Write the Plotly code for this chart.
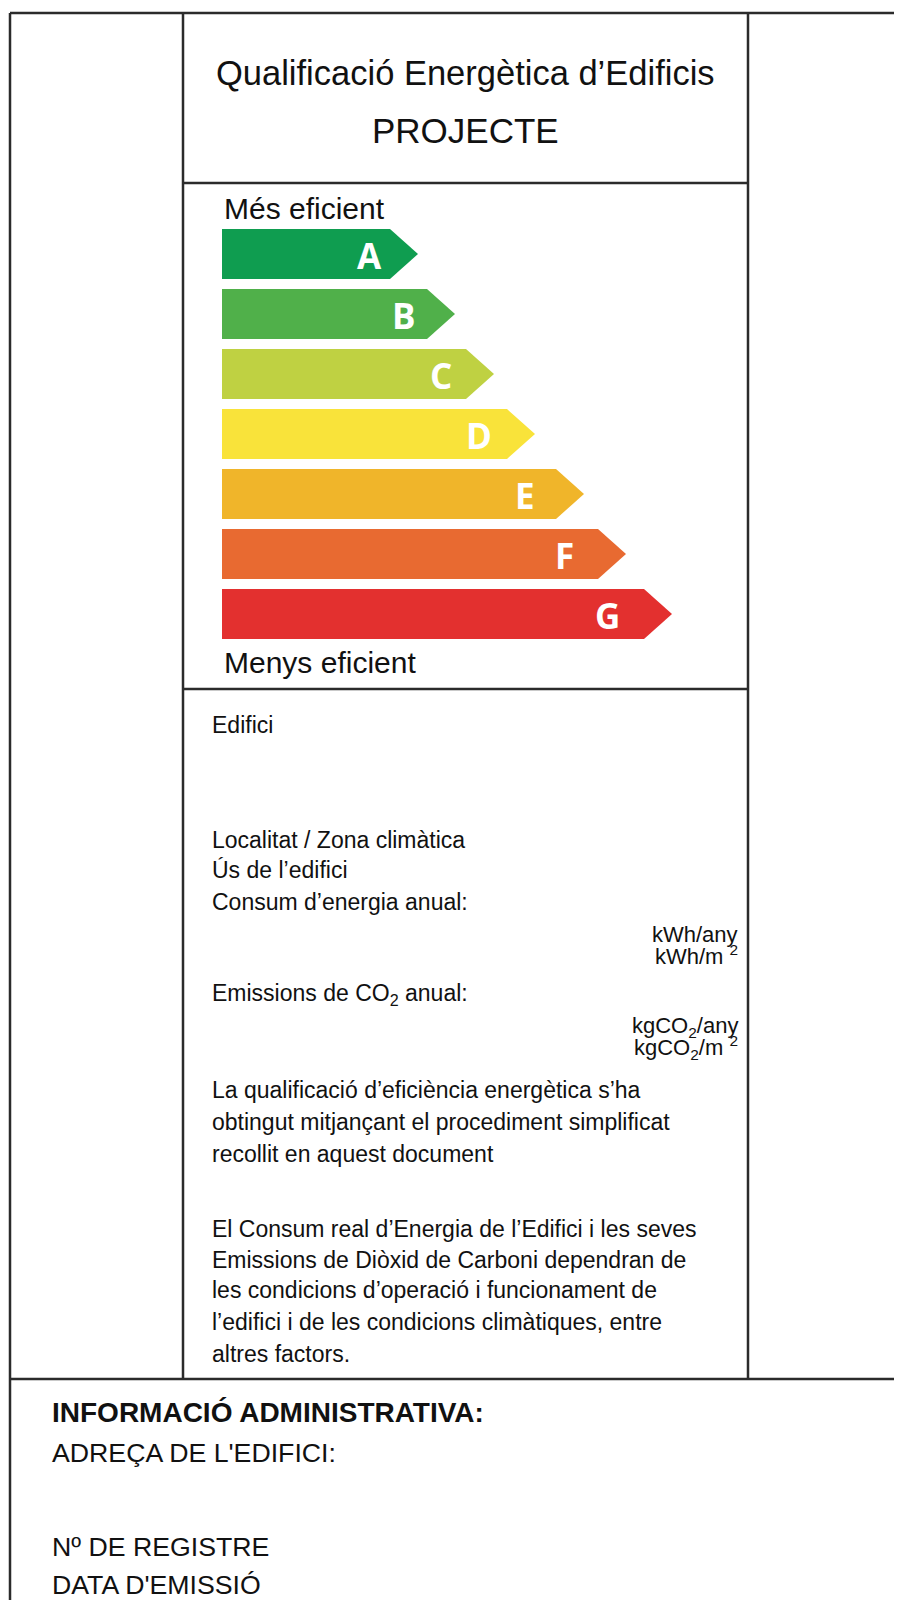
import plotly.graph_objects as go

# ---------------- data ----------------
classes = ["A", "B", "C", "D", "E", "F", "G"]
bar_lengths = [196, 233, 272, 313, 362, 404, 450]  # length of each arrow (to its tip)
bar_colors = ["#0f9d50", "#50b04a", "#bfd142", "#f9e33a", "#f0b52a", "#e86a31", "#e3302f"]

title_lines = ["Qualificació Energètica d’Edificis", "PROJECTE"]
top_label = "Més eficient"
bottom_label = "Menys eficient"

info_left = [
    "Edifici",
    "Localitat / Zona climàtica",
    "Ús de l’edifici",
    "Consum d’energia anual:",
    "Emissions de CO<sub>2</sub> anual:",
    "La qualificació d’eficiència energètica s’ha",
    "obtingut mitjançant el procediment simplificat",
    "recollit en aquest document",
    "El Consum real d’Energia de l’Edifici i les seves",
    "Emissions de Diòxid de Carboni dependran de",
    "les condicions d’operació i funcionament de",
    "l’edifici i de les condicions climàtiques, entre",
    "altres factors.",
]
info_left_baselines = [733, 848, 878, 910, 1003, 1098, 1130, 1162, 1237, 1268, 1298, 1330, 1362]

info_units = ["kWh/any", "kWh/m <sup>2</sup>", "kgCO<sub>2</sub>/any", "kgCO<sub>2</sub>/m <sup>2</sup>"]
info_units_baselines = [942, 963, 1035, 1055]

admin_title = "INFORMACIÓ ADMINISTRATIVA:"
admin_lines = ["ADREÇA DE L'EDIFICI:", "Nº DE REGISTRE", "DATA D'EMISSIÓ"]
admin_baselines = [1463, 1557, 1595]

# ---------------- layout constants ----------------
W, H = 902, 1600
PAGE_OFFSET = 8  # default body margin of the html page
FONT = "Liberation Sans, Arial, Helvetica, sans-serif"
LINE = "#2b2b2b"

bar_left = 222
bar_first_top = 229
bar_pitch = 60
bar_height = 50
tip_depth = 28

fig = go.Figure()

# arrows
for i, (cls, L, col) in enumerate(zip(classes, bar_lengths, bar_colors)):
    top = bar_first_top + i * bar_pitch
    bot = top + bar_height
    mid = (top + bot) / 2
    tip = bar_left + L
    xs = [bar_left, tip - tip_depth, tip, tip - tip_depth, bar_left, bar_left]
    ys = [top, top, mid, bot, bot, top]
    fig.add_trace(go.Scatter(x=xs, y=ys, fill="toself", fillcolor=col, mode="lines",
                             line=dict(width=0, color=col), hoverinfo="skip", showlegend=False))
    fig.add_annotation(x=bar_left - 36 + 0.937 * L, y=mid + 1, text="<b>" + cls + "</b>",
                       showarrow=False, xanchor="center", yanchor="middle",
                       font=dict(family="Open Sans, DejaVu Sans, sans-serif", size=35, color="white"))

# frame lines
def hline(y, x0, x1):
    fig.add_shape(type="line", x0=x0, x1=x1, y0=y, y1=y, xref="x", yref="y",
                  line=dict(color=LINE, width=2.5))

def vline(x, y0, y1):
    fig.add_shape(type="line", x0=x, x1=x, y0=y0, y1=y1, xref="x", yref="y",
                  line=dict(color=LINE, width=2.5))

hline(13, 10, 910)
vline(10, 13, 1610)
vline(183, 13, 1379)
vline(748, 13, 1379)
hline(183, 183, 748)
hline(689, 183, 748)
hline(1379, 10, 910)

def txt(x, baseline, s, size, anchor="left", bold=False, family=FONT):
    t = "<b>" + s + "</b>" if bold else s
    fig.add_annotation(x=x, y=baseline - 0.36 * size, text=t, showarrow=False,
                       xanchor=anchor, yanchor="middle",
                       font=dict(family=family, size=size, color="#111111"))

# title
txt(465, 85, title_lines[0], 34.5, anchor="center")
txt(465, 143, title_lines[1], 35, anchor="center")

txt(bar_left, 219, top_label, 30)
txt(bar_left, 673, bottom_label, 30)

for s, b in zip(info_left, info_left_baselines):
    txt(210, b, s, 23)
for s, b in zip(info_units, info_units_baselines):
    txt(740, b, s, 22, anchor="right")

txt(50, 1423, admin_title, 28, bold=True)
for s, b in zip(admin_lines, admin_baselines):
    txt(50, b, s, 26.7)

fig.update_xaxes(range=[PAGE_OFFSET, W + PAGE_OFFSET], visible=False, fixedrange=True)
fig.update_yaxes(range=[H + PAGE_OFFSET, PAGE_OFFSET], visible=False, fixedrange=True)
fig.update_layout(width=W, height=H, margin=dict(l=0, r=0, t=0, b=0),
                  paper_bgcolor="white", plot_bgcolor="white", showlegend=False)

fig.write_html("out.html", config={"displayModeBar": False})
